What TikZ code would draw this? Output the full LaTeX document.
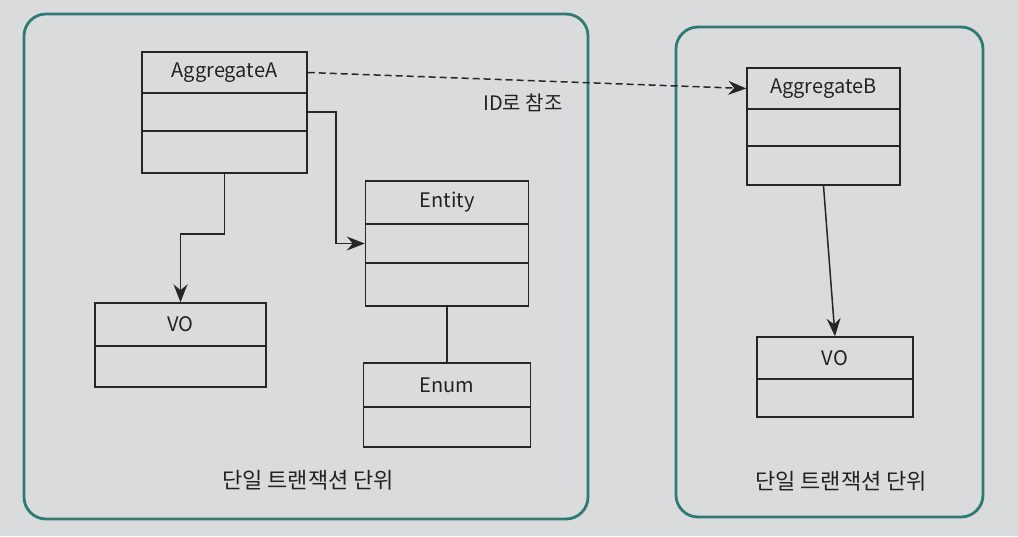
\documentclass[tikz,border=0pt]{standalone}
\usepackage{fontspec}
\setmainfont{Noto Sans CJK KR}
\usetikzlibrary{arrows.meta}
\definecolor{bgc}{HTML}{DADBDD}
\definecolor{frame}{HTML}{2F7A72}
\definecolor{linec}{HTML}{262626}
\definecolor{txt}{HTML}{222222}
\begin{document}
\begin{tikzpicture}[x=1pt,y=-1pt,
  container/.style={draw=frame, line width=2.8pt, rounded corners=22pt, inner sep=0pt},
  cell/.style={draw=linec, line width=1.5pt, inner sep=0pt, text=txt, font=\fontsize{20}{22}\selectfont},
  conn/.style={draw=linec, line width=1.5pt},
  arr/.style={conn, -{Stealth[length=18pt,width=14pt,inset=6pt]}},
  lbl/.style={text=txt, inner sep=0pt, font=\fontsize{20}{22}\selectfont},
  lblt/.style={text=txt, inner sep=0pt, font=\fontsize{22}{24}\selectfont}]
\fill[bgc] (0,0) rectangle (1018,536);
\useasboundingbox (0,0) rectangle (1018,536);
% containers
\node[container, minimum width=564pt, minimum height=505pt] (leftbox) at (306,266.5) {};
\node[container, minimum width=307pt, minimum height=490pt] (rightbox) at (829.5,272) {};
% AggregateA
\node[cell, minimum width=165pt, minimum height=41pt] (aggA1) at (224.5,72.5) {AggregateA};
\node[cell, minimum width=165pt, minimum height=38pt] (aggA2) at (224.5,112) {};
\node[cell, minimum width=165pt, minimum height=42pt] (aggA3) at (224.5,152) {};
% AggregateB
\node[cell, minimum width=153pt, minimum height=41pt] (aggB1) at (823.5,88.5) {AggregateB};
\node[cell, minimum width=153pt, minimum height=37pt] (aggB2) at (823.5,127.5) {};
\node[cell, minimum width=153pt, minimum height=39pt] (aggB3) at (823.5,165.5) {};
% VO left
\node[cell, minimum width=171pt, minimum height=43pt] (vo1) at (180.5,324.5) {VO};
\node[cell, minimum width=171pt, minimum height=41pt] (vo2) at (180.5,366.5) {};
% Entity
\node[cell, minimum width=163pt, minimum height=43pt] (ent1) at (447,202.5) {Entity};
\node[cell, minimum width=163pt, minimum height=39pt] (ent2) at (447,243.5) {};
\node[cell, minimum width=163pt, minimum height=43pt] (ent3) at (447,284.5) {};
% Enum
\node[cell, minimum width=167pt, minimum height=44pt] (enm1) at (447,385) {Enum};
\node[cell, minimum width=167pt, minimum height=40pt] (enm2) at (447,427) {};
% VO right
\node[cell, minimum width=156pt, minimum height=42pt] (voB1) at (835,358) {VO};
\node[cell, minimum width=156pt, minimum height=38pt] (voB2) at (835,398) {};
% labels
\node[lbl] (idref) at (523,103) {ID로 참조};
\node[lblt] (txA) at (308,480) {단일 트랜잭션 단위};
\node[lblt] (txB) at (841,481) {단일 트랜잭션 단위};
% connectors
\draw[arr, dash pattern=on 7pt off 4pt] (aggA1.east) -- (aggB1.west);
\draw[arr] (aggA2.east) -- ++(28,0) |- (ent2.west);
\draw[arr] (aggA3.south) -- ++(0,60) -| (vo1.north);
\draw[conn] (ent3.south) -- (enm1.north);
\draw[arr] (aggB3.south) -- (voB1.north);
\end{tikzpicture}
\end{document}
